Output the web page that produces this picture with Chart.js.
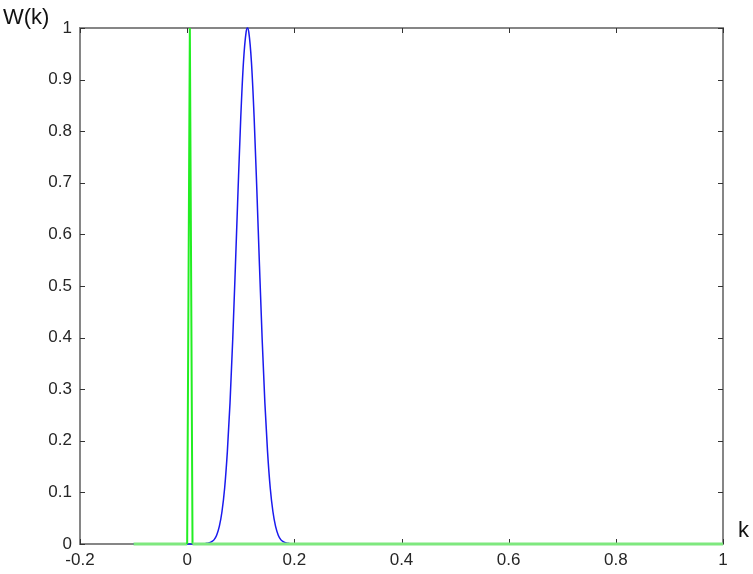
<!DOCTYPE html>
<html>
<head>
<meta charset="utf-8">
<script src="https://cdn.jsdelivr.net/npm/chart.js@4/dist/chart.umd.min.js"></script>
<style>
  html, body { margin: 0; padding: 0; background: #ffffff; }
  #wrap { width: 753px; height: 574px; position: relative; }
</style>
</head>
<body>
<div id="wrap"><canvas id="c" width="753" height="574"></canvas></div>
<script>
// ---- data ----
const kBlue = [-0.1, 0.03, 0.035, 0.04, 0.045, 0.05, 0.055, 0.06, 0.065, 0.07, 0.075, 0.08, 0.085, 0.09, 0.095, 0.1, 0.105, 0.11, 0.1125, 0.115, 0.12, 0.125, 0.13, 0.135, 0.14, 0.145, 0.15, 0.155, 0.16, 0.165, 0.17, 0.175, 0.18, 0.185, 0.19, 0.195, 1.0];
const wBlue = [0, 0, 0.001, 0.002, 0.004, 0.008, 0.017, 0.034, 0.063, 0.109, 0.179, 0.274, 0.396, 0.538, 0.687, 0.826, 0.933, 0.992, 1.0, 0.992, 0.933, 0.826, 0.687, 0.538, 0.396, 0.274, 0.179, 0.109, 0.063, 0.034, 0.017, 0.008, 0.004, 0.002, 0.001, 0, 0];

const kGreen = [-0.1, 0.0, 0.005, 0.01, 1.0];
const wGreen = [0, 0, 1.0, 0, 0];

const xTickValues = [-0.2, 0, 0.2, 0.4, 0.6, 0.8, 1];
const yTickValues = [0, 0.1, 0.2, 0.3, 0.4, 0.5, 0.6, 0.7, 0.8, 0.9, 1];
const xLabel = 'k';
const yLabel = 'W(k)';

const FONT = '"Liberation Sans", Arial, Helvetica, sans-serif';
const AXIS = '#868686';
const TEXT = '#262626';

const toXY = (xs, ys) => xs.map((x, i) => ({ x: x, y: ys[i] }));

const boxPlugin = {
  id: 'box',
  beforeDatasetsDraw(chart) {
    const { ctx, chartArea: a, scales } = chart;
    ctx.save();
    ctx.strokeStyle = AXIS;
    ctx.lineWidth = 2;
    ctx.strokeRect(a.left, a.top, a.right - a.left, a.bottom - a.top);
    ctx.strokeStyle = '#333333';
    ctx.lineWidth = 1;
    const L = 5;
    scales.x.ticks.forEach((t, i) => {
      const px = Math.round(scales.x.getPixelForTick(i)) + 0.5;
      ctx.beginPath();
      ctx.moveTo(px, a.bottom); ctx.lineTo(px, a.bottom - L);
      ctx.moveTo(px, a.top); ctx.lineTo(px, a.top + L);
      ctx.stroke();
    });
    scales.y.ticks.forEach((t, i) => {
      const py = Math.round(scales.y.getPixelForTick(i)) + 0.5;
      ctx.beginPath();
      ctx.moveTo(a.left, py); ctx.lineTo(a.left + L, py);
      ctx.moveTo(a.right, py); ctx.lineTo(a.right - L, py);
      ctx.stroke();
    });
    ctx.restore();
  },
  afterDraw(chart) {
    const { ctx, chartArea: a } = chart;
    ctx.save();
    ctx.fillStyle = '#111111';
    ctx.font = '22px ' + FONT;
    ctx.textBaseline = 'middle';
    ctx.textAlign = 'left';
    ctx.fillText(yLabel, 3, a.top - 10);
    ctx.fillText(xLabel, a.right + 15, a.bottom - 13);
    ctx.restore();
  }
};

new Chart(document.getElementById('c'), {
  type: 'line',
  data: {
    datasets: [
      {
        label: 'green',
        data: toXY(kGreen, wGreen),
        borderColor: '#22ee22',
        borderWidth: 2,
        pointRadius: 0,
        tension: 0,
        clip: false,
        segment: {
          borderColor: c => (c.p0.parsed.y === 0 && c.p1.parsed.y === 0) ? '#7ee87e' : undefined,
          borderWidth: c => (c.p0.parsed.y === 0 && c.p1.parsed.y === 0) ? 3 : undefined
        }
      },
      {
        label: 'blue',
        data: toXY(kBlue, wBlue),
        borderColor: '#1a1aee',
        borderWidth: 1.5,
        pointRadius: 0,
        tension: 0,
        cubicInterpolationMode: 'monotone',
        clip: false
      }
    ]
  },
  options: {
    responsive: false,
    animation: false,
    devicePixelRatio: 1,
    layout: { padding: { left: 0, top: 28, right: 30, bottom: 0 } },
    plugins: { legend: { display: false }, tooltip: { enabled: false } },
    scales: {
      x: {
        type: 'linear',
        min: -0.2, max: 1,
        afterBuildTicks: s => { s.ticks = xTickValues.map(v => ({ value: v })); },
        afterFit: s => { s.height = 30; },
        grid: { display: false, drawTicks: false },
        border: { display: false },
        ticks: { color: TEXT, font: { family: FONT, size: 17 }, padding: 6, maxRotation: 0,
                 callback: v => String(v) }
      },
      y: {
        type: 'linear',
        min: 0, max: 1,
        afterBuildTicks: s => { s.ticks = yTickValues.map(v => ({ value: v })); },
        afterFit: s => { s.width = 80; },
        grid: { display: false, drawTicks: false },
        border: { display: false },
        ticks: { color: TEXT, font: { family: FONT, size: 17 }, padding: 8,
                 callback: v => String(v) }
      }
    }
  },
  plugins: [boxPlugin]
});
</script>
</body>
</html>
